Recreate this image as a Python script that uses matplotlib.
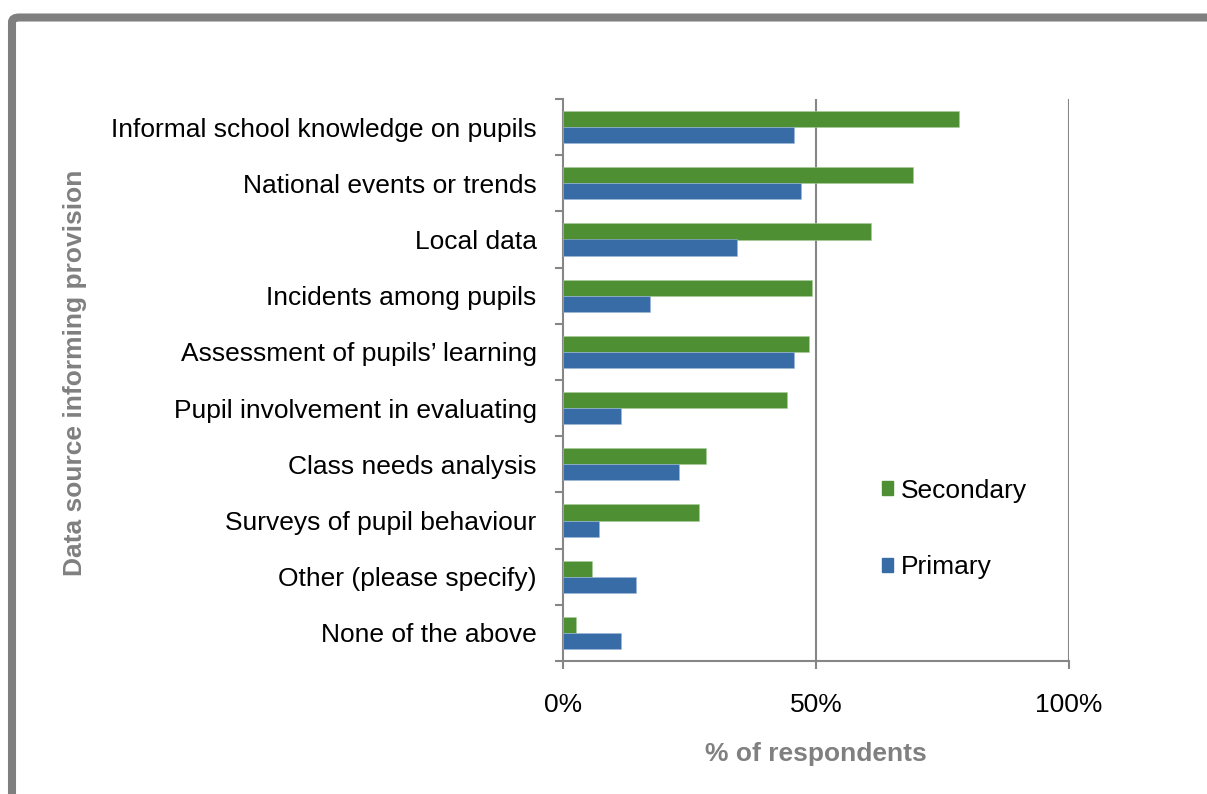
import matplotlib
matplotlib.use("Agg")
import matplotlib.pyplot as plt
from matplotlib.patches import FancyBboxPatch, Patch
import numpy as np

plt.rcParams['font.family'] = ['Liberation Sans', 'DejaVu Sans']

categories = [
    "Informal school knowledge on pupils",
    "National events or trends",
    "Local data",
    "Incidents among pupils",
    "Assessment of pupils\u2019 learning",
    "Pupil involvement in evaluating",
    "Class needs analysis",
    "Surveys of pupil behaviour",
    "Other (please specify)",
    "None of the above",
]
secondary = [78.3, 69.2, 60.9, 49.2, 48.6, 44.3, 28.3, 26.9, 5.7, 2.6]
primary = [45.7, 47.0, 34.4, 17.2, 45.7, 11.5, 22.9, 7.1, 14.4, 11.5]
xticks = [0, 50, 100]
xticklabels = ["0%", "50%", "100%"]

green = "#4F8F34"
blue = "#386CA6"
grey = "#868686"

W, H = 1207, 794
fig = plt.figure(figsize=(W / 100, H / 100), dpi=100)

# outer frame
frame = FancyBboxPatch((12 / W, -0.1), 1.2, 1 - 17.5 / H + 0.1,
                       boxstyle="round,pad=0,rounding_size=0.006",
                       transform=fig.transFigure, fill=False,
                       edgecolor="#7F7F7F", linewidth=5.8)
fig.patches.append(frame)

ax = fig.add_axes([563 / W, 1 - 661 / H, (1069 - 563) / W, (661 - 99) / H])

n = len(categories)
pos = np.arange(n)[::-1].astype(float)
bh = 0.285
ax.barh(pos + bh / 2, secondary, height=bh, color=green, edgecolor="#A9CF98", linewidth=0.4, label="Secondary", zorder=3)
ax.barh(pos - bh / 2, primary, height=bh, color=blue, edgecolor="#9DB8DA", linewidth=0.4, label="Primary", zorder=3)

ax.set_xlim(0, 100)
ax.set_ylim(-0.5, n - 0.5)

fs = 19
ax.set_xticks(xticks)
ax.set_xticklabels(xticklabels, fontsize=fs)
ax.tick_params(axis='x', length=6, width=1.5, color=grey, pad=17, direction='out')

ax.set_yticks(np.arange(-0.5, n, 1.0))
ax.set_yticklabels([])
ax.set_yticks(pos, minor=True)
ax.set_yticklabels(categories, minor=True, fontsize=fs)
ax.tick_params(axis='y', which='major', length=6, width=1.5, color=grey, direction='out')
ax.tick_params(axis='y', which='minor', length=0, pad=19)

for x in [50, 100]:
    ax.axvline(x, color=grey, linewidth=1.5, zorder=1)

for s in ['top', 'right']:
    ax.spines[s].set_visible(False)
for s in ['left', 'bottom']:
    ax.spines[s].set_color(grey)
    ax.spines[s].set_linewidth(1.5)

ax.set_xlabel("% of respondents", fontsize=fs, fontweight='bold', color="#808080", labelpad=18)
fig.text(75 / W, 1 - 373 / H, "Data source informing provision", rotation=90,
         fontsize=fs, fontweight='bold', color="#808080", ha='center', va='center')

handles = [Patch(color=green, label="Secondary"), Patch(color=blue, label="Primary")]
leg = ax.legend(handles=handles, loc='center left', bbox_to_anchor=(882 / W, 1 - 529 / H),
                bbox_transform=fig.transFigure, frameon=False, fontsize=fs,
                handlelength=0.42, handleheight=0.42, handletextpad=0.3, labelspacing=2.0,
                borderpad=0, borderaxespad=0)

fig.savefig("out.png", dpi=100)
